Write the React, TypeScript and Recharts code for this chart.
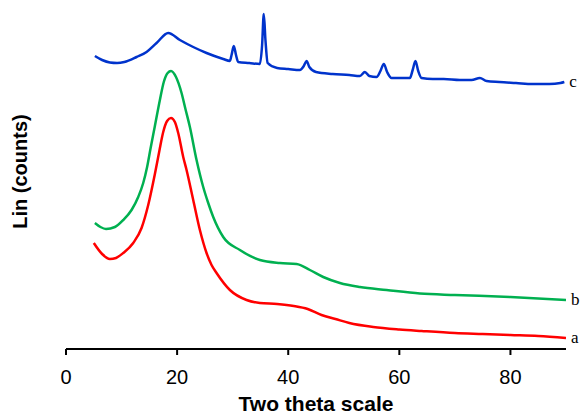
import { LineChart, Line, XAxis, YAxis } from 'recharts';

// sample a (red), b (green), c (blue); intensity in arbitrary units
const seriesA = [
  { x: 5, y: 106 }, { x: 6.5, y: 95 }, { x: 7.9, y: 90 }, { x: 9, y: 91 }, { x: 10.3, y: 96 },
  { x: 12.1, y: 106 }, { x: 13.6, y: 121 }, { x: 14.8, y: 144 }, { x: 16, y: 175 }, { x: 16.8, y: 198 },
  { x: 17.5, y: 217 }, { x: 18.2, y: 228 }, { x: 18.9, y: 231 }, { x: 19.6, y: 227 }, { x: 20.2, y: 216 },
  { x: 21.1, y: 192 }, { x: 21.7, y: 179 }, { x: 22.9, y: 149 }, { x: 24.1, y: 119 }, { x: 25.3, y: 96 },
  { x: 26.2, y: 84 }, { x: 27.1, y: 76 }, { x: 29.5, y: 59 }, { x: 32.5, y: 49 }, { x: 34.9, y: 46 },
  { x: 38, y: 45 }, { x: 41, y: 43 }, { x: 43.5, y: 40 }, { x: 46, y: 34 }, { x: 48.5, y: 30 },
  { x: 51, y: 26 }, { x: 55.3, y: 22 }, { x: 60, y: 19.5 }, { x: 64, y: 18 }, { x: 70, y: 16 },
  { x: 75, y: 15 }, { x: 80, y: 14 }, { x: 85, y: 13 }, { x: 90, y: 11 },
];

const seriesB = [
  { x: 5.2, y: 126 }, { x: 6.2, y: 122 }, { x: 7.2, y: 120 }, { x: 8.8, y: 122 }, { x: 10.3, y: 129 },
  { x: 11.8, y: 139 }, { x: 13, y: 152 }, { x: 13.9, y: 166 }, { x: 14.6, y: 182 }, { x: 15.2, y: 200 },
  { x: 16, y: 223 }, { x: 16.9, y: 249 }, { x: 17.6, y: 267 }, { x: 18.3, y: 276 }, { x: 18.9, y: 278 },
  { x: 19.8, y: 272 }, { x: 20.8, y: 256 }, { x: 21.5, y: 240 }, { x: 22.3, y: 222 }, { x: 23.5, y: 189 },
  { x: 24.7, y: 162 }, { x: 25.6, y: 146 }, { x: 26.5, y: 132 }, { x: 28.3, y: 112 }, { x: 31.3, y: 99 },
  { x: 34.9, y: 89 }, { x: 38.5, y: 86 }, { x: 41.5, y: 85 }, { x: 43.9, y: 79 }, { x: 46.3, y: 72 },
  { x: 49.3, y: 66 }, { x: 52.9, y: 62 }, { x: 57.7, y: 59 }, { x: 63.7, y: 55.5 }, { x: 70, y: 54 },
  { x: 80, y: 52 }, { x: 90, y: 49 },
];

const seriesC = [
  { x: 5.2, y: 293 }, { x: 6.5, y: 289 }, { x: 7.9, y: 286.5 }, { x: 9.2, y: 286 }, { x: 10.5, y: 287 },
  { x: 12.7, y: 292 }, { x: 14.5, y: 297 }, { x: 16.3, y: 306 }, { x: 18.4, y: 316 }, { x: 20.5, y: 309 },
  { x: 22.9, y: 302 }, { x: 25.3, y: 296 }, { x: 28.3, y: 290 }, { x: 29.5, y: 288 }, { x: 29.8, y: 294 },
  { x: 30.2, y: 303 }, { x: 30.6, y: 294 }, { x: 31, y: 287 }, { x: 33, y: 286 }, { x: 34.9, y: 285 },
  { x: 35.3, y: 304 }, { x: 35.6, y: 335 }, { x: 35.9, y: 309 }, { x: 36.3, y: 286 }, { x: 38, y: 281 },
  { x: 40, y: 280 }, { x: 42.1, y: 279 }, { x: 42.8, y: 283 }, { x: 43.3, y: 288 }, { x: 43.8, y: 282 },
  { x: 45, y: 277 }, { x: 48, y: 275 }, { x: 51, y: 274 }, { x: 52.9, y: 273 }, { x: 53.8, y: 277 },
  { x: 54.6, y: 273 }, { x: 55.9, y: 272 }, { x: 56.6, y: 278 }, { x: 57.2, y: 285 }, { x: 57.8, y: 277 },
  { x: 58.6, y: 271 }, { x: 60, y: 271 }, { x: 61.9, y: 271 }, { x: 62.4, y: 279 }, { x: 62.9, y: 288 },
  { x: 63.4, y: 278 }, { x: 64, y: 271 }, { x: 66, y: 270 }, { x: 68, y: 270 }, { x: 70.9, y: 269 },
  { x: 73, y: 269 }, { x: 74.5, y: 271 }, { x: 75.7, y: 268 }, { x: 78, y: 267 }, { x: 81, y: 266 },
  { x: 84, y: 265 }, { x: 87, y: 265 }, { x: 89, y: 266 }, { x: 89.7, y: 267 },
];

const xTicks = [0, 20, 40, 60, 80];

const series = [
  { name: 'a', data: seriesA, color: '#ff0000' },
  { name: 'b', data: seriesB, color: '#00b050' },
  { name: 'c', data: seriesC, color: '#0033cc' },
];

const sans = '"Liberation Sans", Arial, sans-serif';

function endLabel(name: string, last: number) {
  return (p: any) => {
    if (p.index !== last) return null;
    return (
      <text
        key={name}
        x={p.x + 5}
        y={p.y + 5}
        fontFamily='"Liberation Serif", "Times New Roman", serif'
        fontSize={17}
        fill="#000"
      >
        {name}
      </text>
    );
  };
}

export default function App() {
  return (
    <div style={{ position: 'absolute', left: 0, top: 0 }}>
      <LineChart width={580} height={417} margin={{ top: 10, right: 14, left: 0, bottom: 0 }}>
        <XAxis
          type="number"
          dataKey="x"
          domain={[0, 90]}
          ticks={xTicks}
          allowDataOverflow
          height={68}
          axisLine={{ stroke: '#000', strokeWidth: 2 }}
          tickLine={{ stroke: '#000', strokeWidth: 2 }}
          tickSize={6}
          tickMargin={15}
          tick={{ fill: '#000', fontSize: 20, fontFamily: sans }}
          label={{
            content: (props: any) => {
              const vb = props.viewBox;
              return (
                <text
                  x={vb.x + vb.width / 2}
                  y={vb.y + 62}
                  textAnchor="middle"
                  fontFamily={sans}
                  fontWeight="bold"
                  fontSize={21}
                  fill="#000"
                >
                  Two theta scale
                </text>
              );
            },
          }}
        />
        <YAxis
          type="number"
          domain={[0, 339]}
          width={66}
          axisLine={false}
          tickLine={false}
          tick={false}
          label={{
            content: (props: any) => {
              const vb = props.viewBox;
              const cx = vb.x + 27;
              const cy = vb.y + vb.height / 2 - 8;
              return (
                <text
                  x={cx}
                  y={cy}
                  transform={`rotate(-90 ${cx} ${cy})`}
                  textAnchor="middle"
                  fontFamily={sans}
                  fontWeight="bold"
                  fontSize={20}
                  fill="#000"
                >
                  Lin (counts)
                </text>
              );
            },
          }}
        />
        {series.map((s) => (
          <Line
            key={s.name}
            data={s.data}
            dataKey="y"
            type="monotone"
            stroke={s.color}
            strokeWidth={2.5}
            dot={false}
            isAnimationActive={false}
            label={endLabel(s.name, s.data.length - 1)}
          />
        ))}
      </LineChart>
    </div>
  );
}
